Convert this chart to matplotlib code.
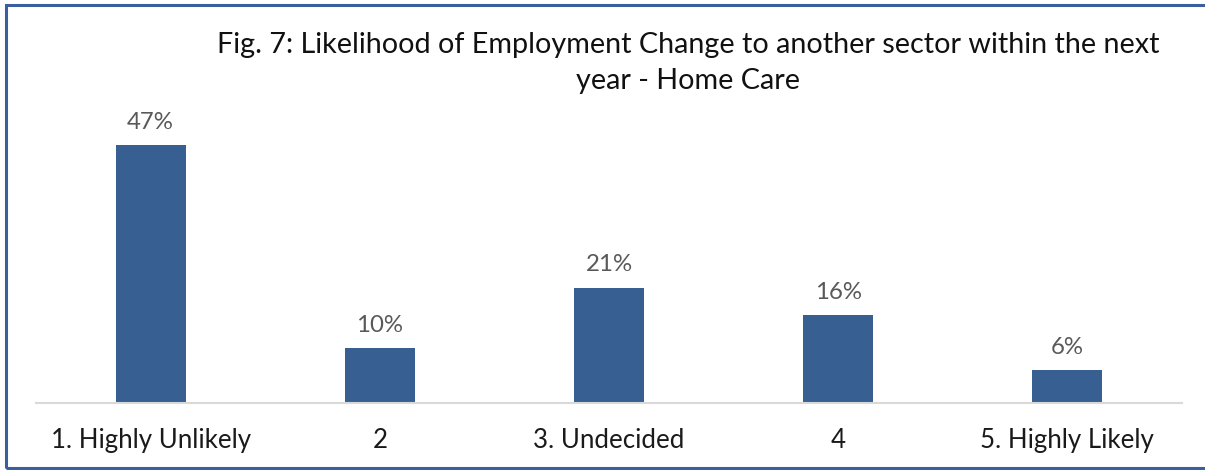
import matplotlib
matplotlib.use("Agg")
import matplotlib.pyplot as plt
from matplotlib.patches import Rectangle

# Survey responses: likelihood of moving to another sector
categories = ["1. Highly Unlikely", "2", "3. Undecided", "4", "5. Highly Likely"]
shares = [47, 10, 21, 16, 6]
title = ("Fig. 7: Likelihood of Employment Change to another sector within the next\n"
         "year - Home Care")

BAR_COLOR = "#375F91"
FRAME_COLOR = "#3A5E9E"
W, H = 1205, 470

plt.rcParams["font.family"] = ["Lato", "DejaVu Sans"]

fig = plt.figure(figsize=(W / 100, H / 100), dpi=100)

# outer frame around the chart
fig.patches.append(Rectangle((6 / W, 2 / H), 1.2, (H - 7) / H,
                             transform=fig.transFigure, fill=False,
                             edgecolor=FRAME_COLOR, linewidth=2.2))

# plot area: baseline at y=403 px, spanning x=36..1182 px
ymax = 50
top_px = 403 - ymax * 5.48
ax = fig.add_axes([36 / W, (H - 403) / H, (1182 - 36) / W, (403 - top_px) / H])

x = range(len(categories))
bars = ax.bar(x, shares, width=0.306, color=BAR_COLOR)
for b, v in zip(bars, shares):
    ax.text(b.get_x() + b.get_width() / 2, v + 2.3, f"{v}%",
            ha="center", va="bottom", fontsize=17.3, color="#595959")

ax.set_xlim(-0.5, len(categories) - 0.5)
ax.set_ylim(0, ymax)
ax.set_xticks(list(x))
ax.set_xticklabels(categories, fontsize=18.6, color="#1a1a1a")
ax.tick_params(axis="x", length=0, pad=18)
ax.set_yticks([])
for side in ["top", "right", "left"]:
    ax.spines[side].set_visible(False)
ax.spines["bottom"].set_color("#D9D9D9")
ax.spines["bottom"].set_linewidth(1.5)
ax.patch.set_alpha(0)

fig.text(688 / W, 1 - 32 / H, title, ha="center", va="top",
         fontsize=20.7, color="#111111", linespacing=1.5)

fig.savefig("out.png", dpi=100)
